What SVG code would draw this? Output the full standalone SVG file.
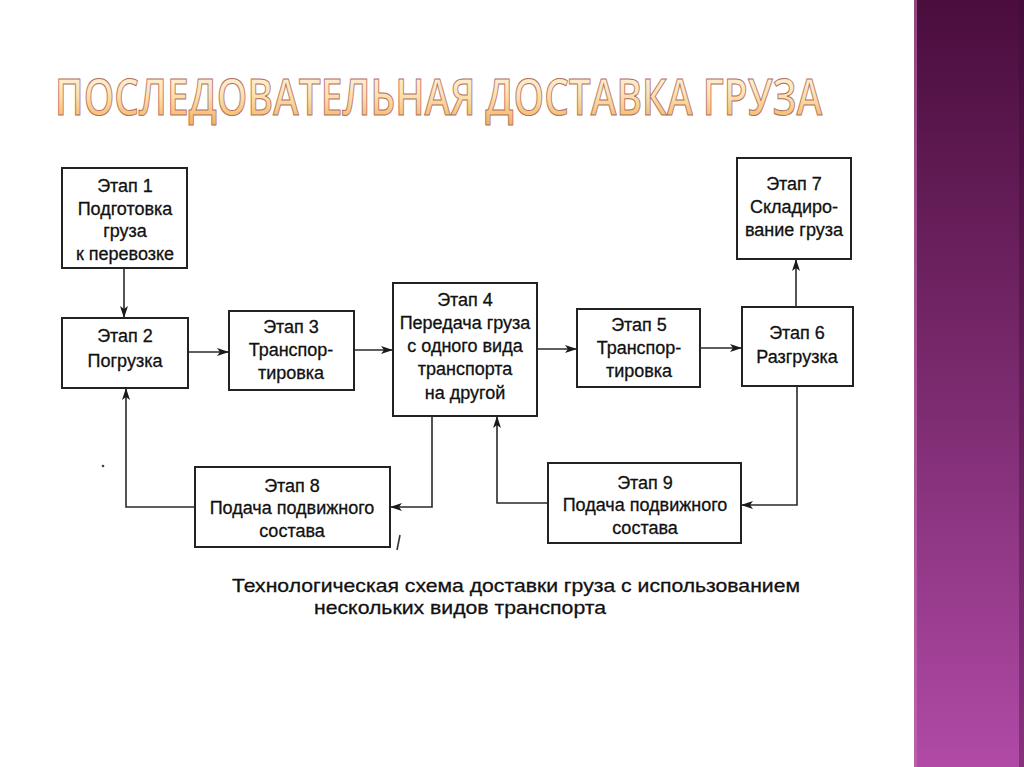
<svg xmlns="http://www.w3.org/2000/svg" width="1024" height="767" viewBox="0 0 1024 767">
<defs>
<linearGradient id="side" x1="0" y1="0" x2="0" y2="1">
<stop offset="0" stop-color="#4a0d3c"/>
<stop offset="0.5" stop-color="#7a2a6e"/>
<stop offset="1" stop-color="#b04aa6"/>
</linearGradient>
<linearGradient id="titleFill" x1="0" y1="0" x2="0" y2="1">
<stop offset="0" stop-color="#fffaf0"/>
<stop offset="0.5" stop-color="#fde0b0"/>
<stop offset="1" stop-color="#f3a94e"/>
</linearGradient>
<marker id="ah" viewBox="0 0 12 8" refX="12" refY="4" markerWidth="12" markerHeight="8" markerUnits="userSpaceOnUse" orient="auto">
<path d="M0,0 L12,4 L0,8 L3,4 Z" fill="#1a1a1a"/>
</marker>
<style>
.box{fill:#fff;stroke:#222;stroke-width:2}
.t{font-family:"Liberation Sans",Arial,sans-serif;font-size:18px;fill:#111;stroke:#111;stroke-width:0.3;text-anchor:middle}
.c{fill:none;stroke:#2a2a2a;stroke-width:1.6}
.cap{font-family:"Liberation Sans",Arial,sans-serif;font-size:19px;fill:#111;stroke:#111;stroke-width:0.3;text-anchor:middle}
.title{font-family:"Open Sans","Liberation Sans",sans-serif;font-size:50px;font-weight:600;fill:url(#titleFill);stroke:#b07060;stroke-width:1}
</style>
</defs>
<rect width="1024" height="767" fill="#ffffff"/>
<g id="sidebar">
<rect x="914" y="0" width="110" height="767" fill="url(#side)"/>
<rect x="914" y="0" width="3" height="767" fill="#c070b0" opacity="0.6"/>
<rect x="1019" y="0" width="5" height="767" fill="#3a0a30" opacity="0.35"/>
</g>
<text class="title" transform="translate(55,115) scale(0.8,1)" x="0" y="0" textLength="959" lengthAdjust="spacingAndGlyphs">ПОСЛЕДОВАТЕЛЬНАЯ ДОСТАВКА ГРУЗА</text>

<g id="connectors">
<line class="c" x1="124" y1="268" x2="124" y2="318" marker-end="url(#ah)"/>
<line class="c" x1="188" y1="352" x2="229" y2="352" marker-end="url(#ah)"/>
<line class="c" x1="354" y1="350" x2="393" y2="350" marker-end="url(#ah)"/>
<line class="c" x1="537" y1="349" x2="577" y2="349" marker-end="url(#ah)"/>
<line class="c" x1="700" y1="348" x2="742" y2="348" marker-end="url(#ah)"/>
<line class="c" x1="796" y1="307" x2="796" y2="259" marker-end="url(#ah)"/>
<polyline class="c" points="432,416 432,507 390,507" marker-end="url(#ah)"/>
<polyline class="c" points="195,507 126,507 126,388" marker-end="url(#ah)"/>
<polyline class="c" points="797,386 797,505 741,505" marker-end="url(#ah)"/>
<polyline class="c" points="548,503 497,503 497,416" marker-end="url(#ah)"/>
</g>

<g id="n1"><rect class="box" x="62" y="168" width="125" height="100"/>
<text class="t" x="125" y="192">Этап 1</text><text class="t" x="125" y="215">Подготовка</text><text class="t" x="125" y="237">груза</text><text class="t" x="125" y="260">к перевозке</text></g>
<g id="n2"><rect class="box" x="62" y="318" width="126" height="70"/>
<text class="t" x="125" y="342">Этап 2</text><text class="t" x="125" y="367">Погрузка</text></g>
<g id="n3"><rect class="box" x="229" y="311" width="125" height="79"/>
<text class="t" x="291" y="333">Этап 3</text><text class="t" x="291" y="356">Транспор-</text><text class="t" x="291" y="379">тировка</text></g>
<g id="n4"><rect class="box" x="393" y="283" width="144" height="133"/>
<text class="t" x="465" y="306">Этап 4</text><text class="t" x="465" y="329">Передача груза</text><text class="t" x="465" y="352">с одного вида</text><text class="t" x="465" y="375">транспорта</text><text class="t" x="465" y="399">на другой</text></g>
<g id="n5"><rect class="box" x="577" y="309" width="123" height="78"/>
<text class="t" x="639" y="331">Этап 5</text><text class="t" x="639" y="354">Транспор-</text><text class="t" x="639" y="377">тировка</text></g>
<g id="n6"><rect class="box" x="742" y="307" width="111" height="79"/>
<text class="t" x="797" y="339">Этап 6</text><text class="t" x="797" y="363">Разгрузка</text></g>
<g id="n7"><rect class="box" x="737" y="158" width="114" height="101"/>
<text class="t" x="794" y="190">Этап 7</text><text class="t" x="794" y="213">Складиро-</text><text class="t" x="794" y="236">вание груза</text></g>
<g id="n8"><rect class="box" x="195" y="467" width="195" height="80"/>
<text class="t" x="292" y="492">Этап 8</text><text class="t" x="292" y="514">Подача подвижного</text><text class="t" x="292" y="537">состава</text></g>
<g id="n9"><rect class="box" x="548" y="463" width="193" height="80"/>
<text class="t" x="645" y="489">Этап 9</text><text class="t" x="645" y="511">Подача подвижного</text><text class="t" x="645" y="534">состава</text></g>

<line x1="400" y1="535" x2="397" y2="550" stroke="#333" stroke-width="1.6"/>
<circle cx="103" cy="466" r="1.3" fill="#444"/>

<g id="caption">
<text class="cap" x="516" y="592" textLength="568" lengthAdjust="spacingAndGlyphs">Технологическая схема доставки груза с использованием</text>
<text class="cap" x="460" y="614" textLength="292" lengthAdjust="spacingAndGlyphs">нескольких видов транспорта</text>
</g>
</svg>
